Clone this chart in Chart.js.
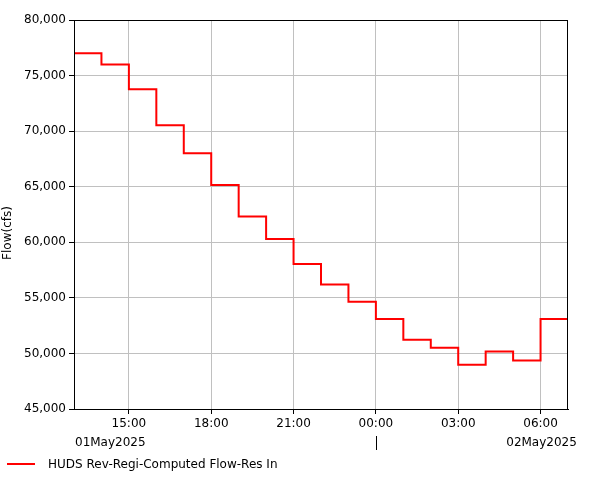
<!DOCTYPE html>
<html>
<head>
<meta charset="utf-8">
<title>HUDS Rev-Regi-Computed Flow-Res In</title>
<script src="https://cdn.jsdelivr.net/npm/chart.js@4.4.0/dist/chart.umd.min.js"></script>
<style>
  html,body{margin:0;padding:0;background:#fff;}
  #wrap{position:relative;width:601px;height:480px;overflow:hidden;}
  #legend{position:absolute;left:7px;top:457px;height:14px;font:12px 'DejaVu Sans',sans-serif;color:#000;
          display:flex;align-items:center;white-space:nowrap;}
  #legend .sw{display:inline-block;width:28px;height:2px;background:#ff0000;margin-right:13px;}
</style>
</head>
<body>
<div id="wrap">
  <canvas id="chart" width="601" height="480"></canvas>
  <div id="legend"><span class="sw"></span><span>HUDS Rev-Regi-Computed Flow-Res In</span></div>
</div>
<script>
/* Stepped hourly flow, 01May2025 13:00 -> 02May2025 07:00.
   x = hours since 01May2025 13:00; each value is the period-end reading. */
const hourOffsets = [0,1,2,3,4,5,6,7,8,9,10,11,12,13,14,15,16,17,18];
const flowValues  = [77000,77000,76000,73770,70540,68020,65150,62330,60300,58050,
                     56200,54640,53100,51220,50500,48980,50170,49360,53100];
const tickHours   = [2,5,8,11,14,17];
const tickLabels  = ['15:00','18:00','21:00','00:00','03:00','06:00'];
const dateLabels  = ['01May2025','02May2025'];
const dayBreakHour = 11;   // 00:00 on 02May2025
const yMin = 45000, yMax = 80000, yStep = 5000;
const seriesName = 'HUDS Rev-Regi-Computed Flow-Res In';
const yTitle = 'Flow(cfs)';

const FONT = "'DejaVu Sans', Verdana, sans-serif";
const grid = '#c0c0c0', ink = '#000000', red = '#ff0000';

// frame, y title, date row under the time ticks
const extras = {
  id: 'extras',
  afterDraw(chart){
    const {ctx, chartArea:a} = chart;
    const xs = chart.scales.x;
    ctx.save();
    ctx.strokeStyle = ink; ctx.lineWidth = 1;
    ctx.strokeRect(Math.round(a.left)+0.5, Math.round(a.top)+0.5,
                   Math.round(a.right-a.left)-1, Math.round(a.bottom-a.top));
    ctx.fillStyle = ink;
    ctx.font = '12px ' + FONT;
    ctx.textBaseline = 'middle';
    // date row
    ctx.textAlign = 'left';
    ctx.fillText(dateLabels[0], a.left + 1, 443);
    ctx.textAlign = 'center';
    ctx.fillText(dateLabels[1], xs.getPixelForValue(tickHours[tickHours.length-1]) + 1, 443);
    const xb = Math.round(xs.getPixelForValue(dayBreakHour)) + 0.5;
    ctx.beginPath(); ctx.moveTo(xb, 436); ctx.lineTo(xb, 450); ctx.stroke();
    // y axis title
    ctx.translate(8, 233);
    ctx.rotate(-Math.PI/2);
    ctx.fillText(yTitle, 0, 0);
    ctx.restore();
  }
};

new Chart(document.getElementById('chart').getContext('2d'), {
  type: 'line',
  data: {
    datasets: [{
      label: seriesName,
      data: hourOffsets.map((h,i)=>({x:h, y:flowValues[i]})),
      borderColor: red, borderWidth: 2, stepped: 'after',
      pointRadius: 0, fill: false
    }]
  },
  options: {
    responsive: false, animation: false, devicePixelRatio: 1,
    layout: { padding: { top: 20, right: 33, left: 0, bottom: 0 } },
    plugins: { legend: { display: false }, tooltip: { enabled: false } },
    scales: {
      x: {
        type: 'linear', min: hourOffsets[0], max: hourOffsets[hourOffsets.length-1],
        afterBuildTicks: s => { s.ticks = tickHours.map(v=>({value:v})); },
        afterFit: s => { s.height = 71; },
        ticks: { autoSkip:false, maxRotation:0, padding:3, color:ink, font:{family:FONT, size:12},
                 callback: v => tickLabels[tickHours.indexOf(v)] },
        grid: { color: grid, tickColor: ink, tickLength: 5, lineWidth: 1 },
        border: { display: true, color: ink, width: 1 }
      },
      y: {
        min: yMin, max: yMax,
        afterFit: s => { s.width = 74; },
        ticks: { stepSize: yStep, padding: 3, color: ink, font:{family:FONT, size:12},
                 callback: v => v.toLocaleString('en-US') },
        grid: { color: grid, tickColor: ink, tickLength: 5, lineWidth: 1 },
        border: { display: true, color: ink, width: 1 }
      }
    }
  },
  plugins: [extras]
});
</script>
</body>
</html>
